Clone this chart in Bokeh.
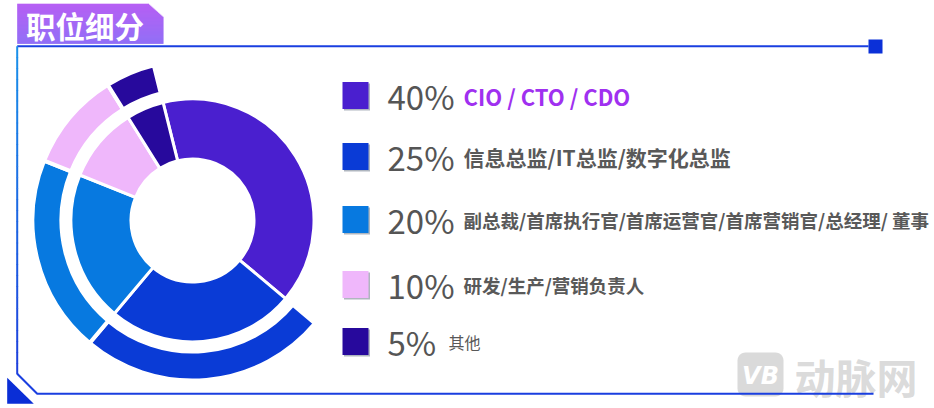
import numpy as np
from bokeh.plotting import figure
from bokeh.models import Range1d
from bokeh.embed import file_html
from bokeh.resources import INLINE
from bokeh.core.properties import value

# ---------------- data ----------------
title = "职位细分"
categories = [
    "CIO / CTO / CDO",
    "信息总监/IT总监/数字化总监",
    "副总裁/首席执行官/首席运营官/首席营销官/总经理/ 董事",
    "研发/生产/营销负责人",
    "其他",
]
shares = [40, 25, 20, 10, 5]
pct_labels = ["40%", "25%", "20%", "10%", "5%"]
colors = ["#4A1FCF", "#0A3BD6", "#0779E0", "#EFB7FB", "#27099C"]
in_outer_ring = [False, True, True, True, True]
watermark = "动脉网"
watermark_logo = "VB"

# ---------------- layout ----------------
W, H = 934, 408
FONT = value("Noto Sans CJK SC")


def X(px):
    if np.isscalar(px):
        return float(px)
    return [float(v) for v in px]


def Y(py):
    if np.isscalar(py):
        return float(H - py)
    return [float(H - v) for v in py]


p = figure(width=W, height=H, x_range=Range1d(0, W), y_range=Range1d(0, H),
           output_backend="svg", toolbar_location=None, min_border=0,
           x_axis_location=None, y_axis_location=None,
           background_fill_color="white", border_fill_color="white")
p.grid.visible = False
p.outline_line_color = None

# ---------- title tab (vertical gradient) ----------
ys = np.arange(3.3, 43.3, 1.0)
c_top = np.array([0xA6, 0x3B, 0xF2])
c_bot = np.array([0x78, 0x4F, 0xF5])
lefts, rights, tops, bots, cols = [], [], [], [], []
for yy in ys:
    t = (yy - 3.3) / 40.0
    c = (c_top * (1 - t) + c_bot * t).astype(int)
    cols.append("#%02x%02x%02x" % tuple(c))
    r = 148 + (yy + 0.5 - 3.3) * (15 / 13.4) if yy + 0.5 < 16.7 else 163
    lefts.append(16.7)
    rights.append(r)
    tops.append(yy)
    bots.append(min(yy + 1.05, 43.3))
p.quad(left=X(lefts), right=X(rights), top=Y(tops), bottom=Y(bots),
       fill_color=cols, line_color=None)
p.text(x=[X(25.5)], y=[Y(24)], text=[title], text_font=FONT, text_font_size="29.5px",
       text_font_style="bold", text_color="white", text_baseline="middle")

# ---------- frame ----------
p.line(X([16.7, 868]), Y([45.7, 45.7]), line_color="#1A3FE0", line_width=2)
p.rect(x=[X(875)], y=[Y(46)], width=14, height=14, fill_color="#0B30D8", line_color=None)
# left line with vertical gradient
segs = np.linspace(45.7, 373.3, 31)
lc_top = np.array([0x1A, 0x90, 0xEA])
lc_bot = np.array([0x1E, 0x40, 0xDD])
xs_l, ys_l, cs_l = [], [], []
for i in range(30):
    t = i / 29
    c = (lc_top * (1 - t) + lc_bot * t).astype(int)
    xs_l.append(X([16.7, 16.7]))
    ys_l.append(Y([segs[i], segs[i + 1] + 0.5]))
    cs_l.append("#%02x%02x%02x" % tuple(c))
p.multi_line(xs=xs_l, ys=ys_l, line_color=cs_l, line_width=2)

# watermark (under the bottom line)
th = np.linspace(0, np.pi / 2, 8)
rr = 8
bx0, bx1, by0, by1 = 737, 783, 352, 396
cx_ = [bx1 - rr, bx1 - rr, bx0 + rr, bx0 + rr]
cy_ = [by0 + rr, by1 - rr, by1 - rr, by0 + rr]
rx, ry = [], []
for k, (ccx, ccy) in enumerate(zip(cx_, cy_)):
    a = th + (-np.pi / 2 + k * np.pi / 2)
    rx.extend(ccx + rr * np.cos(a))
    ry.extend(ccy + rr * np.sin(a))
p.patch(X(rx), Y(ry), fill_color="#D4D4D4", fill_alpha=0.85, line_color=None)
p.text(x=[X(760)], y=[Y(375)], text=[watermark_logo], text_font=value("DejaVu Sans"),
       text_font_size="24px", text_font_style="bold italic", text_color="white",
       text_align="center", text_baseline="middle")
p.text(x=[X(794)], y=[Y(375)], text=[watermark], text_font=FONT, text_font_size="41px",
       text_font_style="bold", text_color="#D6D6D6", text_alpha=0.9, text_baseline="middle")

p.line(X([16.7, 16.7, 36.7, 873]), Y([373.3, 373.3, 393.3, 393.3]),
       line_color="#1A3FE0", line_width=2)
p.patch(X([6.7, 6.7, 33.3]), Y([377.3, 403.3, 403.3]), fill_color="#0A2ED6", line_color=None)

# ---------- donut ----------
cx, cy = X(192), Y(220)
theta0 = -14.0  # clockwise from 12 o'clock
cum = theta0 + np.cumsum([0] + shares) / 100.0 * 360.0
a_start = [float(v) for v in np.deg2rad(90 - cum[1:])]   # math angles
a_end = [float(v) for v in np.deg2rad(90 - cum[:-1])]

p.annular_wedge(x=cx, y=cy, inner_radius=61.5, outer_radius=121.5,
                start_angle=a_start, end_angle=a_end,
                fill_color=colors, line_color="white", line_width=3)

idx = [i for i, f in enumerate(in_outer_ring) if f]
p.annular_wedge(x=cx, y=cy, inner_radius=131, outer_radius=160,
                start_angle=[a_start[i] for i in idx], end_angle=[a_end[i] for i in idx],
                fill_color=[colors[i] for i in idx], line_color="white", line_width=4)

# ---------- legend ----------
ROW_Y = [95, 156, 219, 284, 341]
p.rect(x=X([356.5] * 5), y=Y([v + 1.5 for v in ROW_Y]), width=26, height=27,
       fill_color="#6E7A8A", fill_alpha=0.55, line_color=None)
p.rect(x=X([355] * 5), y=Y(ROW_Y), width=26, height=27,
       fill_color=colors, line_color=None)
p.text(x=X([387] * 5), y=Y(ROW_Y), text=pct_labels, text_font=FONT,
       text_font_size="33px", text_color="#555555", text_baseline="middle")

label_x = [463, 463, 463, 463, 448]
label_size = ["22px", "21px", "18.5px", "18.5px", "16px"]
label_color = ["#A030F0", "#595959", "#595959", "#595959", "#595959"]
label_style = ["bold", "bold", "bold", "bold", "normal"]
for i in range(5):
    p.text(x=[X(label_x[i])], y=[Y(ROW_Y[i])], text=[categories[i]], text_font=FONT,
           text_font_size=label_size[i], text_color=label_color[i],
           text_font_style=label_style[i], text_baseline="middle")

open("out.html", "w").write(file_html(p, INLINE))
